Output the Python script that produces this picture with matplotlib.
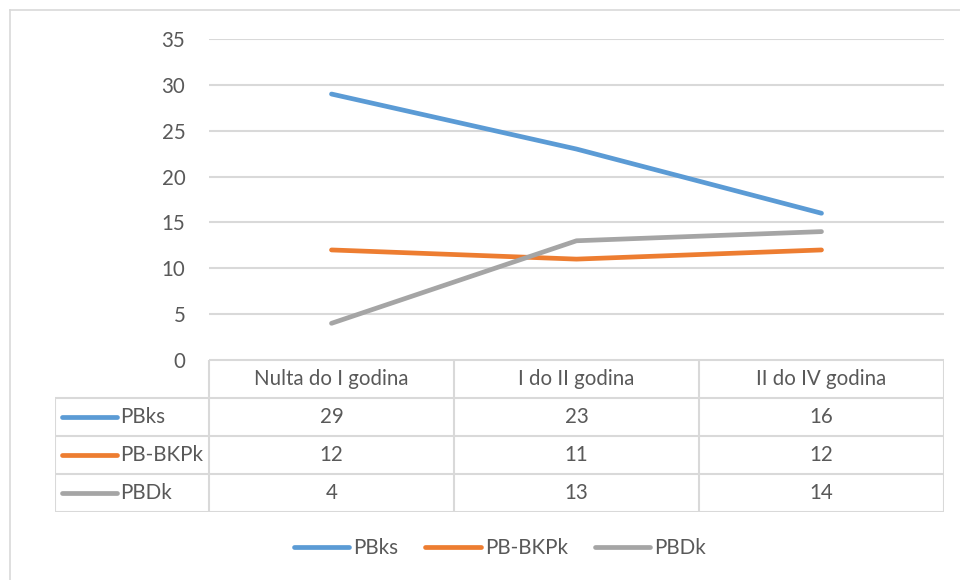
import matplotlib
matplotlib.use("Agg")
import matplotlib.pyplot as plt
from matplotlib.lines import Line2D

plt.rcParams['font.family'] = ['Lato', 'DejaVu Sans']

categories = ["Nulta do I godina", "I do II godina", "II do IV godina"]
series_names = ["PBks", "PB-BKPk", "PBDk"]
pbks = [29, 23, 16]
pbbkpk = [12, 11, 12]
pbdk = [4, 13, 14]
series_values = [pbks, pbbkpk, pbdk]
colors = ["#5B9BD5", "#ED7D31", "#A5A5A5"]
yticks = [0, 5, 10, 15, 20, 25, 30, 35]

W, H = 960, 580
TXT = "#595959"
GRID = "#D9D9D9"
FS = 14.8

fig = plt.figure(figsize=(W / 100, H / 100), dpi=100)

def fx(px):
    return px / W

def fy(py):
    return 1 - py / H

# outer frame
fig.add_artist(Line2D([fx(10), fx(10)], [fy(10), 0], color=GRID, lw=1.2, transform=fig.transFigure))
fig.add_artist(Line2D([fx(10), 1], [fy(10), fy(10)], color=GRID, lw=1.2, transform=fig.transFigure))

# plot area
ax_l, ax_r, ax_t, ax_b = 209, 944, 39, 360
ax = fig.add_axes([fx(ax_l), fy(ax_b), fx(ax_r - ax_l), (ax_b - ax_t) / H])
n = len(categories)
x = list(range(n))
for name, vals, c in zip(series_names, series_values, colors):
    ax.plot(x, vals, color=c, lw=3.4, solid_capstyle='round', label=name, zorder=3)
ax.set_xlim(-0.5, n - 0.5)
ax.set_ylim(0, 35)
ax.set_yticks(yticks)
ax.set_yticklabels([str(t) for t in yticks])
ax.set_xticks([])
ax.yaxis.grid(True, color=GRID, lw=1.5)
ax.set_axisbelow(True)
for s in ax.spines.values():
    s.set_visible(False)
ax.tick_params(axis='y', length=0, pad=17, labelsize=FS, labelcolor=TXT)

# data table
tb_l, tb_t, tb_b = 55, 360, 512
unit = (ax_r - ax_l) / n
left_x = -0.5 - (ax_l - tb_l) / unit
tax = fig.add_axes([fx(tb_l), fy(tb_b), fx(ax_r - tb_l), (tb_b - tb_t) / H])
nrows = len(series_names) + 1
tax.set_xlim(left_x, n - 0.5)
tax.set_ylim(nrows, 0)
tax.axis('off')
lk = dict(color=GRID, lw=1.5, solid_capstyle='butt')
# header top line
tax.plot([-0.5, n - 0.5], [0, 0], **lk)
for r in range(1, nrows + 1):
    tax.plot([left_x, n - 0.5], [r, r], **lk)
tax.plot([left_x, left_x], [1, nrows], **lk)
for i in range(n + 1):
    tax.plot([i - 0.5, i - 0.5], [0, nrows], **lk)
for i, cat in enumerate(categories):
    tax.text(i, 0.5, cat, ha='center', va='center', fontsize=FS, color=TXT)
for r, (name, vals, c) in enumerate(zip(series_names, series_values, colors), start=1):
    for i, v in enumerate(vals):
        tax.text(i, r + 0.5, str(v), ha='center', va='center', fontsize=FS, color=TXT)
    k0 = left_x + 7 / unit
    k1 = left_x + 62 / unit
    tax.plot([k0, k1], [r + 0.5, r + 0.5], color=c, lw=3.4, solid_capstyle='round')
    tax.text(k1 + 3 / unit, r + 0.5, name, ha='left', va='center', fontsize=FS, color=TXT)

# bottom legend
handles = [Line2D([], [], color=c, lw=3.4, solid_capstyle='round') for c in colors]
fig.legend(handles, series_names, loc='center', bbox_to_anchor=(fx(500), fy(548)),
           ncol=3, frameon=False, fontsize=FS, handlelength=2.7, handletextpad=0.2,
           columnspacing=1.3, labelcolor=TXT)

fig.savefig("out.png", dpi=100, facecolor='white')
